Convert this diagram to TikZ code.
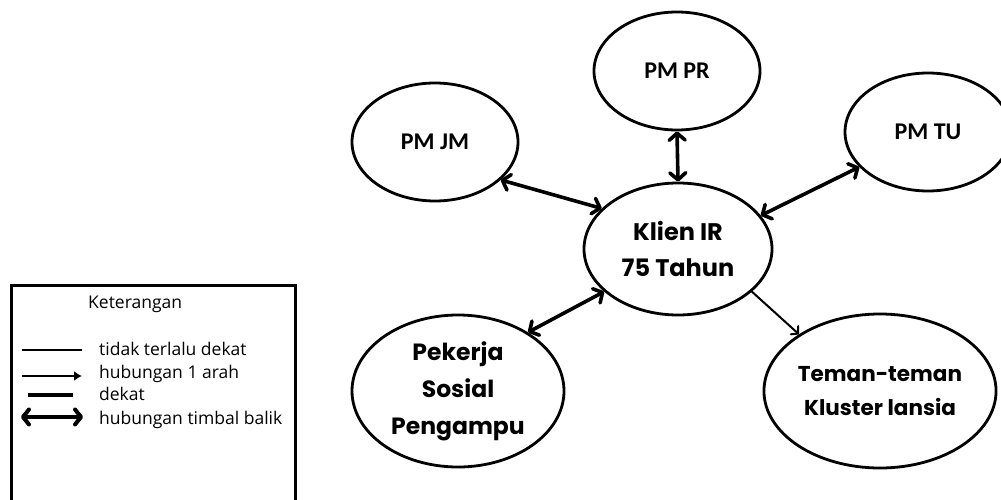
\documentclass[tikz,border=0pt]{standalone}
\usepackage{fontspec}
\setmainfont{Poppins}
\newfontfamily\pmfont{Carlito}
\newfontfamily\legfont{Open Sans}
\usetikzlibrary{shapes.geometric,arrows.meta}
\begin{document}
\begin{tikzpicture}[x=1pt,y=-1pt,
  bub/.style={ellipse,draw,line width=2.8pt,inner sep=0pt,align=center},
  smallbub/.style={bub,minimum width=166pt,minimum height=118pt,
    font=\pmfont\bfseries\fontsize{24}{28}\selectfont},
  bigbub/.style={bub,font=\bfseries\fontsize{24}{36}\selectfont},
  mutual/.style={line width=3.6pt,
    {Straight Barb[length=7pt,width=16pt,round]}-{Straight Barb[length=7pt,width=16pt,round]}},
  oneway/.style={line width=2pt,-{Straight Barb[length=5pt,width=11pt,round]}},
  legtext/.style={anchor=base west,inner sep=0pt,font=\legfont\fontsize{17.5}{20}\selectfont},
  legbox/.style={draw,line width=2.6pt,anchor=north west,inner sep=0pt,
    minimum width=284pt,minimum height=230pt}
]
\useasboundingbox (0,0) rectangle (1001,500);
\clip (0,0) rectangle (1001,500);

% nodes
\node[smallbub] (jm) at (435,142) {PM JM};
\node[smallbub] (pr) at (677,71) {PM PR};
\node[smallbub] (tu) at (928,132) {PM TU};
\node[bigbub,minimum width=188pt,minimum height=132pt] (klien) at (678,249) {Klien IR\\75 Tahun};
\node[bigbub,minimum width=212pt,minimum height=152pt,font=\bfseries\fontsize{23.5}{37}\selectfont] (pekerja) at (458,391) {Pekerja\\Sosial\\Pengampu};
\node[bigbub,minimum width=214pt,minimum height=154pt,font=\bfseries\fontsize{21.5}{34}\selectfont] (teman) at (880,391) {Teman-teman\\Kluster lansia};

% connectors
\draw[mutual] (jm.-30) -- (klien.152);
\draw[mutual] (pr.south) -- (klien.north);
\draw[mutual] (tu.207) -- (klien.22);
\draw[mutual] (pekerja.40) -- (klien.210);
\draw[oneway] (klien.-30) -- (teman.145);

% legend
\node[legbox] (legend) at (10,284) {};
\node[legtext] (kt) at (88,308) {Keterangan};
\node[legtext] (t1) at (99,355) {tidak terlalu dekat};
\node[legtext] (t2) at (99,378) {hubungan 1 arah};
\node[legtext] (t3) at (99,400) {dekat};
\node[legtext] (t4) at (99,424) {hubungan timbal balik};
\coordinate (l1a) at (22,350); \coordinate (l1b) at (82,350);
\coordinate (l2a) at (22,376); \coordinate (l2b) at (82,376);
\coordinate (l3a) at (28,395); \coordinate (l3b) at (73,395);
\coordinate (l4a) at (21,417); \coordinate (l4b) at (83,417);
\draw[line width=2.2pt] (l1a) -- (l1b);
\draw[line width=2.2pt,-{Latex[length=8pt,width=10pt]}] (l2a) -- (l2b);
\draw[line width=4pt] (l3a) -- (l3b);
\draw[line width=4pt,{Straight Barb[length=6pt,width=15pt,round]}-{Straight Barb[length=6pt,width=15pt,round]}] (l4a) -- (l4b);
\end{tikzpicture}
\end{document}
